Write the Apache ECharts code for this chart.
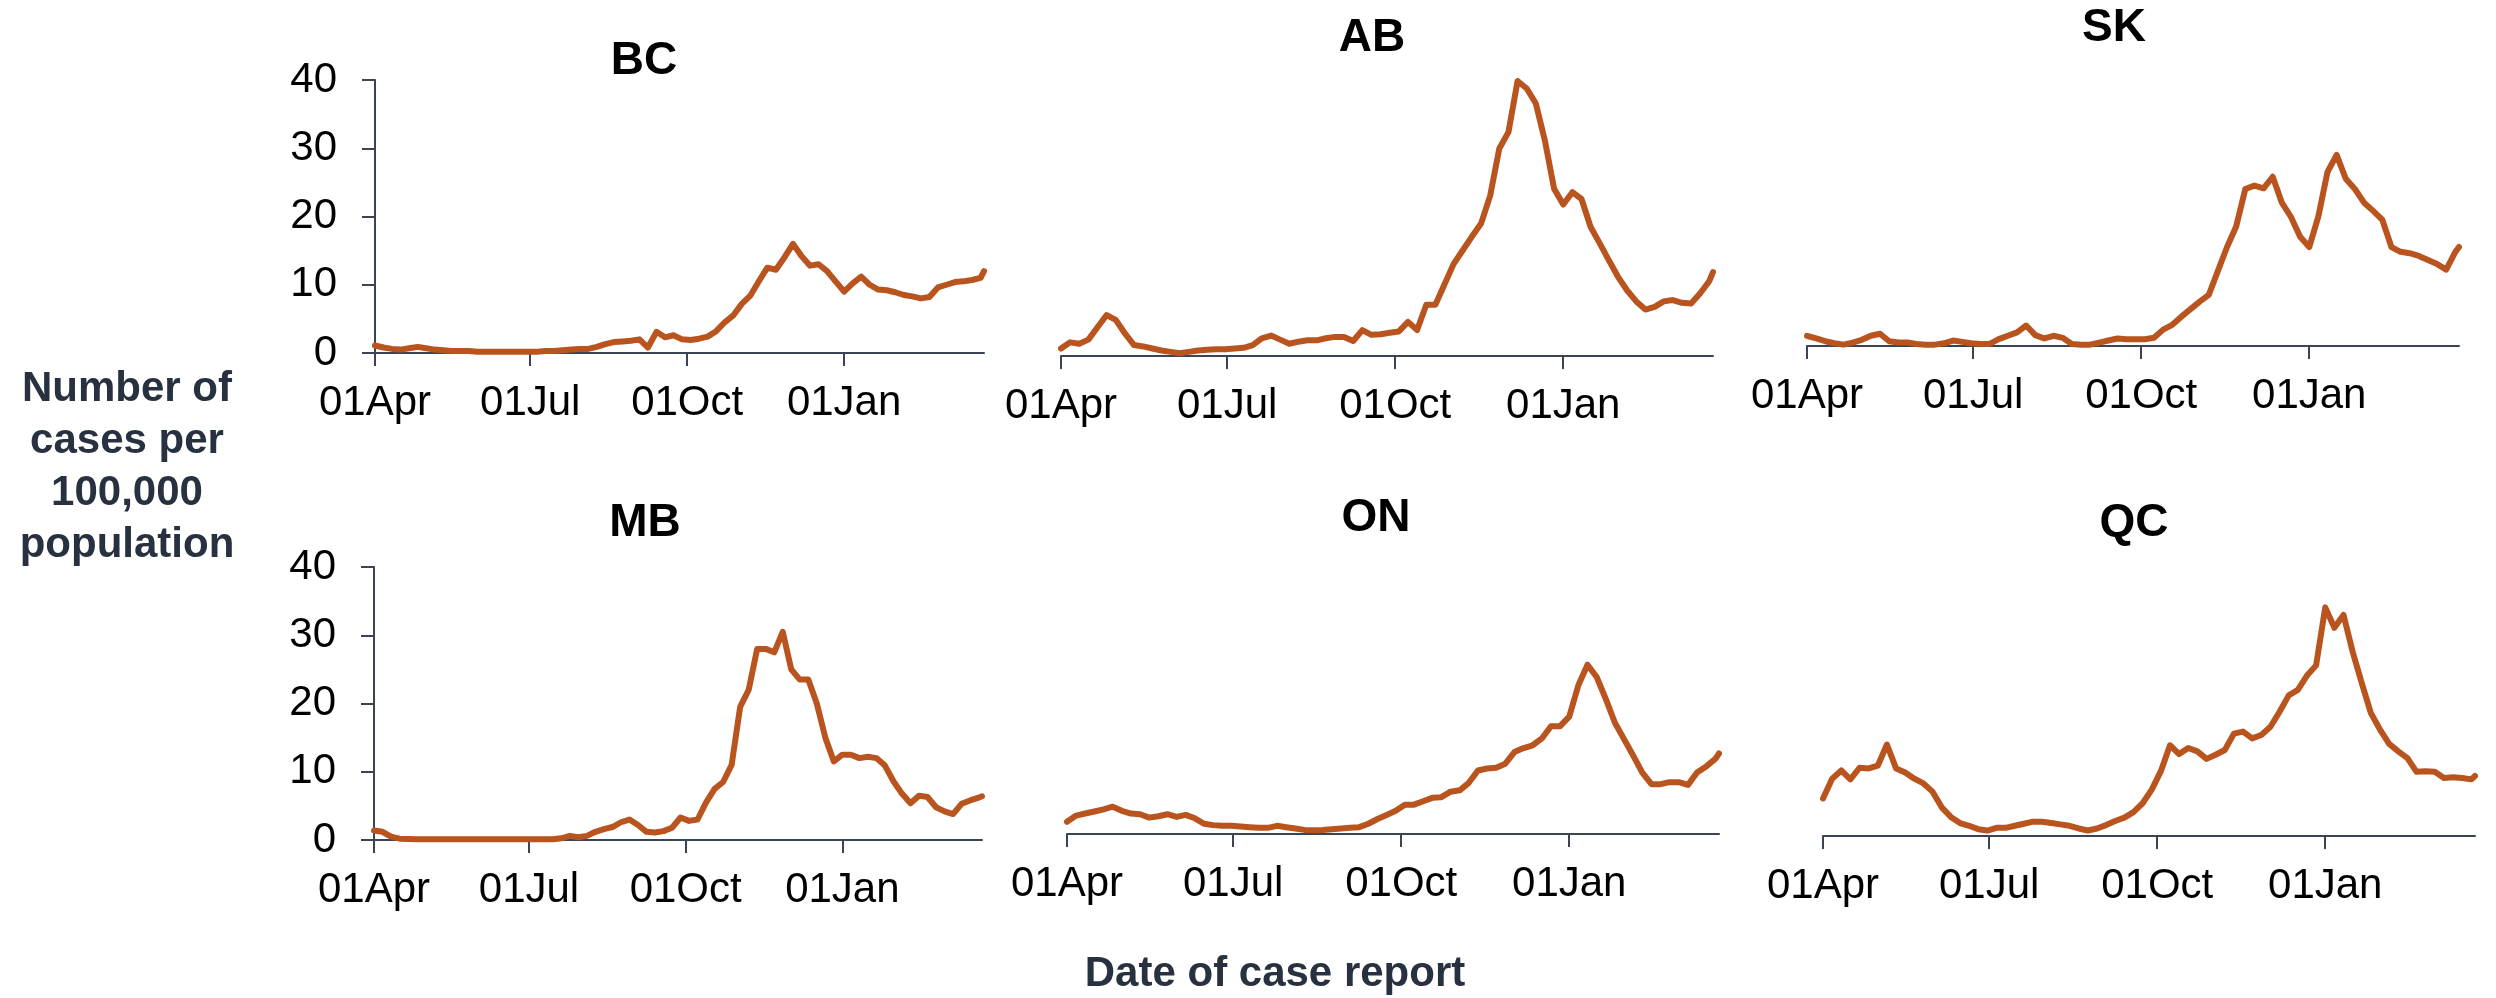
<!DOCTYPE html>
<html>
<head>
<meta charset="utf-8">
<script src="https://cdn.jsdelivr.net/npm/echarts@6/dist/echarts.min.js"></script>
<style>
html,body{margin:0;padding:0;background:#ffffff;}
#chart{width:2496px;height:998px;}
</style>
</head>
<body>
<div id="chart"></div>
<script>
// ---------- DATA ----------
const dates = ['2020-04-01','2020-04-06','2020-04-11','2020-04-16','2020-04-21','2020-04-26','2020-05-01','2020-05-06','2020-05-11','2020-05-16',
'2020-05-21','2020-05-26','2020-05-31','2020-06-05','2020-06-10','2020-06-15','2020-06-20','2020-06-25','2020-06-30','2020-07-05',
'2020-07-10','2020-07-15','2020-07-20','2020-07-25','2020-07-30','2020-08-04','2020-08-09','2020-08-14','2020-08-19','2020-08-24',
'2020-08-29','2020-09-03','2020-09-08','2020-09-13','2020-09-18','2020-09-23','2020-09-28','2020-10-03','2020-10-08','2020-10-13',
'2020-10-18','2020-10-23','2020-10-28','2020-11-02','2020-11-07','2020-11-12','2020-11-17','2020-11-22','2020-11-27','2020-12-02',
'2020-12-07','2020-12-12','2020-12-17','2020-12-22','2020-12-27','2021-01-01','2021-01-06','2021-01-11','2021-01-16','2021-01-21',
'2021-01-26','2021-01-31','2021-02-05','2021-02-10','2021-02-15','2021-02-20','2021-02-25','2021-03-02','2021-03-07','2021-03-12',
'2021-03-17','2021-03-22','2021-03-24'];

const provinces = ['BC','AB','SK','MB','ON','QC'];

const valuesBC = [1.1,0.8,0.6,0.5,0.7,0.9,0.7,0.5,0.4,0.3,
0.3,0.3,0.2,0.2,0.2,0.2,0.2,0.2,0.2,0.2,
0.3,0.3,0.4,0.5,0.6,0.6,0.9,1.3,1.6,1.7,
1.8,2.0,0.8,3.1,2.3,2.6,2.0,1.9,2.1,2.4,
3.2,4.5,5.5,7.2,8.4,10.5,12.5,12.2,14.0,16.0,
14.2,12.8,13.0,12.0,10.5,9.0,10.2,11.2,10.0,9.3,
9.2,8.9,8.5,8.3,8.0,8.2,9.6,10.0,10.4,10.5,
10.7,11.0,12.0];

const valuesAB = [1.1,2.0,1.8,2.4,4.2,6.0,5.3,3.3,1.6,1.4,
1.1,0.8,0.6,0.4,0.6,0.8,0.9,1.0,1.0,1.1,
1.2,1.6,2.6,3.0,2.4,1.8,2.1,2.3,2.3,2.6,
2.8,2.8,2.2,3.8,3.1,3.2,3.4,3.6,5.0,3.8,
7.5,7.5,10.5,13.5,15.5,17.5,19.4,23.5,30.4,32.8,
40.3,39.2,37.0,31.5,24.5,22.2,24.0,23.0,18.9,16.5,
14.0,11.6,9.6,8.0,6.8,7.2,8.0,8.2,7.8,7.7,
9.2,11.0,12.3];

const valuesSK = [1.5,1.1,0.7,0.4,0.2,0.5,0.9,1.5,1.8,0.7,
0.5,0.5,0.3,0.2,0.2,0.4,0.8,0.6,0.4,0.3,
0.3,1.0,1.5,2.0,3.0,1.6,1.1,1.5,1.2,0.3,
0.2,0.2,0.5,0.8,1.1,1.0,1.0,1.0,1.2,2.4,
3.1,4.3,5.4,6.5,7.5,11.0,14.5,17.5,23.0,23.5,
23.1,24.8,21.0,18.9,16.0,14.5,19.0,25.5,28.0,24.5,
23.0,21.0,19.8,18.5,14.5,13.8,13.6,13.2,12.6,12.0,
11.2,13.8,14.5];

const valuesMB = [1.4,1.2,0.5,0.2,0.15,0.1,0.1,0.1,0.1,0.1,
0.1,0.1,0.1,0.1,0.1,0.1,0.1,0.1,0.1,0.1,
0.1,0.1,0.25,0.6,0.4,0.6,1.2,1.6,1.9,2.6,
3.0,2.2,1.2,1.1,1.3,1.8,3.3,2.8,3.0,5.5,
7.5,8.5,11.0,19.5,22.0,28.0,28.0,27.5,30.5,25.0,
23.5,23.5,20.0,15.0,11.5,12.5,12.5,12.0,12.2,12.0,
10.9,8.6,6.8,5.4,6.5,6.3,4.8,4.2,3.8,5.3,
5.8,6.2,6.4];

const valuesON = [1.8,2.7,3.0,3.3,3.6,4.0,3.4,3.0,2.9,2.4,
2.6,2.9,2.5,2.8,2.3,1.5,1.3,1.2,1.2,1.1,
1.0,0.9,0.9,1.2,1.0,0.8,0.6,0.55,0.6,0.7,
0.8,0.9,1.0,1.5,2.2,2.8,3.4,4.3,4.3,4.8,
5.3,5.4,6.2,6.4,7.5,9.3,9.6,9.7,10.3,12.0,
12.6,13.0,14.0,15.8,15.8,17.2,21.8,24.8,23.0,19.8,
16.3,13.9,11.5,9.0,7.3,7.3,7.6,7.6,7.2,9.0,
9.9,11.0,11.8];

const valuesQC = [5.5,8.4,9.6,8.3,10.0,9.9,10.3,13.4,9.9,9.3,
8.4,7.7,6.5,4.2,2.8,1.9,1.5,1.0,0.8,1.2,
1.2,1.5,1.8,2.1,2.1,1.9,1.7,1.5,1.1,0.8,
1.1,1.6,2.2,2.7,3.5,4.8,6.8,9.5,13.3,12.0,
12.9,12.4,11.3,11.9,12.6,15.0,15.3,14.3,14.8,16.0,
18.2,20.6,21.4,23.5,25.0,33.5,30.5,32.4,27.0,22.4,
18.0,15.6,13.5,12.4,11.4,9.4,9.5,9.4,8.5,8.6,
8.5,8.3,8.8];

const tickDates = ['2020-04-01','2020-07-01','2020-10-01','2021-01-01'];
const tickLabels = ['01Apr','01Jul','01Oct','01Jan'];
const axisStart = '2020-04-01';
const axisEnd = '2021-03-24';
const yAxisTitle = 'Number of\ncases per\n100,000\npopulation';
const xAxisTitle = 'Date of case report';

// ---------- LAYOUT / STYLE ----------
const seriesValues = [valuesBC, valuesAB, valuesSK, valuesMB, valuesON, valuesQC];
const panels = [
  {left:375,  top:80,  width:609, height:273, tx:644,  ty:61,  yAxis:true},
  {left:1061, top:83,  width:652, height:273, tx:1372, ty:38,  yAxis:false},
  {left:1807, top:73,  width:652, height:273, tx:2114, ty:28,  yAxis:false},
  {left:374,  top:567, width:608, height:273, tx:645,  ty:523, yAxis:true},
  {left:1067, top:561, width:652, height:273, tx:1376, ty:518, yAxis:false},
  {left:1823, top:563, width:652, height:273, tx:2134, ty:523, yAxis:false}
];
const LINE = '#B9541F';
const AXIS = '#3b4452';
const FONT = "'Liberation Sans', Arial, sans-serif";
const TITLE_COLOR = '#28313f';

// dates -> UTC timestamps (numeric value axis)
const parse = s => { const [y, m, d] = s.split('-').map(Number); return Date.UTC(y, m - 1, d); };
const tickValues = tickDates.map(parse);
const fmt = v => {
  const i = tickValues.findIndex(t => Math.abs(t - v) < 43200000);
  return i >= 0 ? tickLabels[i] : '';
};

const grid = [], xAxis = [], yAxis = [], series = [], graphic = [];
panels.forEach((p, i) => {
  grid.push({left:p.left, top:p.top, width:p.width, height:p.height, containLabel:false});
  xAxis.push({
    type:'value', gridIndex:i, min:parse(axisStart), max:parse(axisEnd), scale:true,
    axisLine:{show:true, lineStyle:{color:AXIS, width:2}},
    axisTick:{show:true, length:13, inside:false, customValues:tickValues, lineStyle:{color:AXIS, width:2}},
    axisLabel:{show:true, customValues:tickValues, formatter:fmt, fontSize:42, lineHeight:42,
      color:'#000', fontFamily:FONT, margin:29, hideOverlap:false},
    splitLine:{show:false}
  });
  yAxis.push({
    type:'value', gridIndex:i, min:0, max:40, interval:10, show:p.yAxis,
    axisLine:{show:true, lineStyle:{color:AXIS, width:2}},
    axisTick:{show:true, length:13, inside:false, lineStyle:{color:AXIS, width:2}},
    axisLabel:{show:true, fontSize:42, color:'#000', fontFamily:FONT, margin:38},
    splitLine:{show:false}
  });
  series.push({
    name:provinces[i], type:'line', xAxisIndex:i, yAxisIndex:i,
    data: dates.map((d, k) => [parse(d), seriesValues[i][k]]),
    showSymbol:false, symbol:'none',
    lineStyle:{color:LINE, width:6, join:'round', cap:'round'},
    itemStyle:{color:LINE}, clip:false
  });
  graphic.push({
    type:'text', x:p.tx, y:p.ty,
    style:{text:provinces[i], font:"bold 46px " + FONT, fill:'#000', align:'center', verticalAlign:'middle'}
  });
});

graphic.push({
  type:'text', x:127, y:467,
  style:{text:yAxisTitle, font:"bold 42px " + FONT, fill:TITLE_COLOR, align:'center', verticalAlign:'middle', lineHeight:52}
});
graphic.push({
  type:'text', x:1275, y:974,
  style:{text:xAxisTitle, font:"bold 42px " + FONT, fill:TITLE_COLOR, align:'center', verticalAlign:'middle'}
});

const chart = echarts.init(document.getElementById('chart'), null, {renderer:'canvas'});
chart.setOption({
  animation:false,
  backgroundColor:'#ffffff',
  grid, xAxis, yAxis, series, graphic
});
</script>
</body>
</html>
